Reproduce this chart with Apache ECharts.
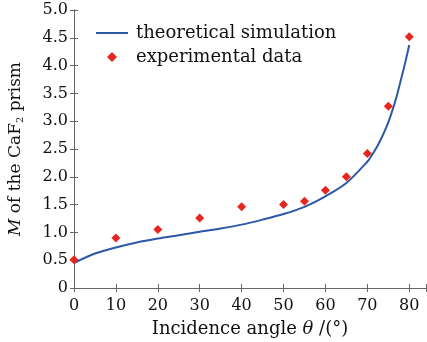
<!DOCTYPE html>
<html>
<head>
<meta charset="utf-8">
<script src="https://cdn.jsdelivr.net/npm/echarts@6/dist/echarts.min.js"></script>
<style>
  html, body { margin: 0; padding: 0; background: #fff; }
  #chart { width: 427px; height: 342px; }
</style>
</head>
<body>
<div id="chart"></div>
<script>
// theoretical curve
const simAngles = [0, 5, 10, 15, 20, 25, 30, 35, 40, 45, 50, 55, 60, 65, 70, 71, 72, 73, 74, 75, 76, 77, 78, 79, 80];
const simValues = [0.45, 0.62, 0.73, 0.82, 0.89, 0.95, 1.01, 1.07, 1.14, 1.23, 1.33, 1.46, 1.65, 1.89, 2.27, 2.38, 2.5, 2.64, 2.8, 2.98, 3.2, 3.45, 3.74, 4.04, 4.37];

// measured points
const expAngles = [0, 10, 20, 30, 40, 50, 55, 60, 65, 70, 75, 80];
const expValues = [0.51, 0.9, 1.05, 1.26, 1.46, 1.5, 1.56, 1.76, 2.0, 2.42, 3.27, 4.52];

const xTicks = [0, 10, 20, 30, 40, 50, 60, 70, 80];

const font = "DejaVu Serif";
const axisColor = "#666";
const ink = "#111";

const chart = echarts.init(document.getElementById("chart"));

const sideAxis = {
  axisLine: { show: true, lineStyle: { color: axisColor, width: 1 } },
  axisTick: { show: true, inside: true, length: 4, lineStyle: { color: axisColor } },
  axisLabel: { show: false },
  splitLine: { show: false },
};

const legendText = { fontFamily: font, fontSize: 18, color: ink };

chart.setOption({
  animation: false,
  backgroundColor: "#fff",
  grid: { left: 74, top: 10, right: 1, bottom: 54, containLabel: false, outerBoundsMode: "none" },
  legend: [
    {
      left: 91,
      top: 19,
      itemWidth: 32,
      itemHeight: 14,
      textStyle: Object.assign({ padding: [0, 0, 0, 3] }, legendText),
      data: [{ name: "theoretical simulation", icon: "path://M0,6 L32,6 L32,8 L0,8 Z" }],
    },
    {
      left: 102,
      top: 43,
      itemWidth: 10,
      itemHeight: 10,
      textStyle: Object.assign({ padding: [0, 0, 0, 14] }, legendText),
      data: [{ name: "experimental data", icon: "diamond" }],
    },
  ],
  xAxis: [
    {
      type: "value",
      min: 0,
      max: 84,
      interval: 10,
      name: "Incidence angle {i|θ} /(°)",
      nameLocation: "middle",
      nameGap: 32,
      nameTextStyle: {
        fontFamily: font, fontSize: 18, color: ink,
        rich: { i: { fontFamily: font, fontStyle: "italic", fontSize: 18, color: ink } },
      },
      axisLine: { lineStyle: { color: axisColor } },
      axisTick: { inside: true, length: 4, lineStyle: { color: axisColor } },
      axisLabel: {
        fontFamily: font, fontSize: 16, color: ink, margin: 10,
        formatter: (v) => (xTicks.includes(v) ? String(v) : ""),
      },
      splitLine: { show: false },
    },
    Object.assign({ type: "value", position: "top", min: 0, max: 84, interval: 10 }, sideAxis),
  ],
  yAxis: [
    {
      type: "value",
      min: 0,
      max: 5,
      interval: 0.5,
      name: "{i|M} of the CaF{s|2} prism",
      nameLocation: "middle",
      nameGap: 49,
      nameTextStyle: {
        fontFamily: font, fontSize: 17, color: ink,
        rich: {
          i: { fontFamily: font, fontStyle: "italic", fontSize: 17, color: ink },
          s: { fontFamily: font, fontSize: 10, color: ink, verticalAlign: "bottom", padding: [8, 0, 0, 0] },
        },
      },
      axisLine: { show: true, lineStyle: { color: axisColor } },
      axisTick: { show: true, inside: true, length: 4, lineStyle: { color: axisColor } },
      axisLabel: {
        fontFamily: font, fontSize: 16, color: ink, margin: 6,
        formatter: (v) => (v === 0 ? "0" : v.toFixed(1)),
      },
      splitLine: { show: false },
    },
    Object.assign({ type: "value", position: "right", min: 0, max: 5, interval: 0.5 }, sideAxis),
  ],
  series: [
    {
      name: "theoretical simulation",
      type: "line",
      smooth: 0.3,
      showSymbol: false,
      lineStyle: { color: "#2c58a8", width: 2 },
      itemStyle: { color: "#2c58a8" },
      data: simAngles.map((a, i) => [a, simValues[i]]),
      z: 2,
    },
    {
      name: "experimental data",
      type: "scatter",
      symbol: "diamond",
      symbolSize: 9,
      itemStyle: { color: "#e8261f", opacity: 1 },
      data: expAngles.map((a, i) => [a, expValues[i]]),
      z: 3,
    },
  ],
});
</script>
</body>
</html>
